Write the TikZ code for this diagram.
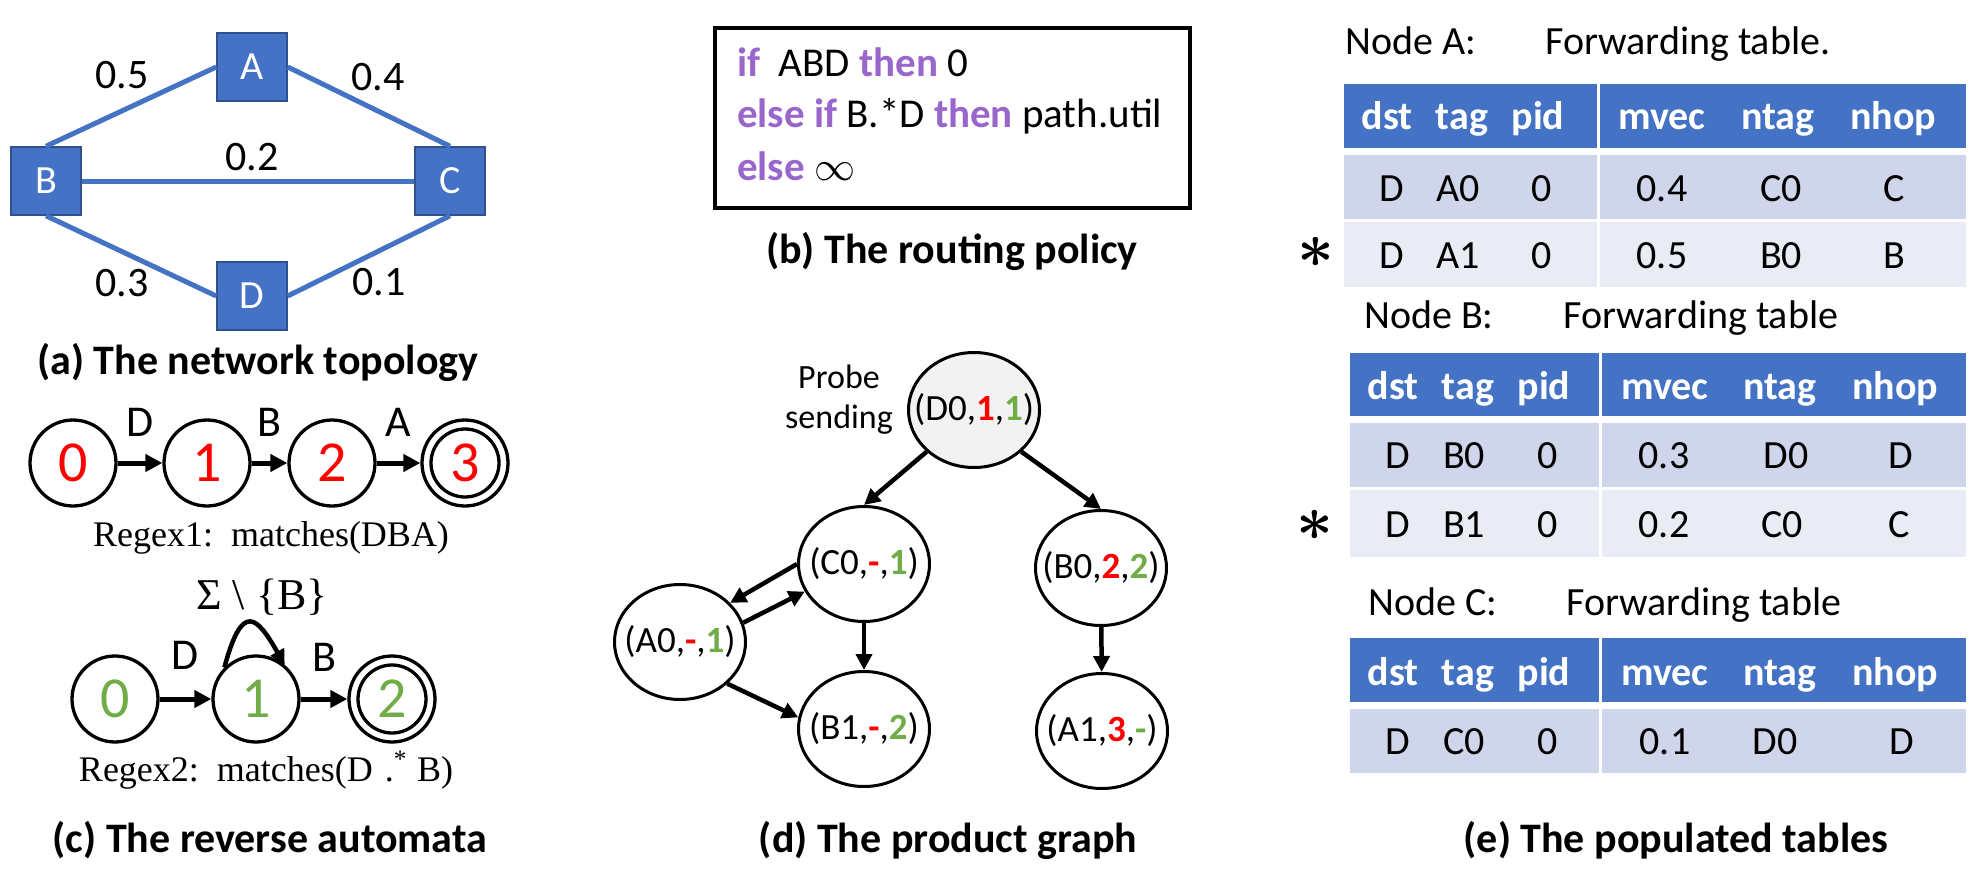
\documentclass[tikz,border=0pt]{standalone}
\usepackage{fix-cm}
\usepackage{fontspec}
\setmainfont{Carlito}
\newfontfamily\regexfont{Liberation Serif}
\usetikzlibrary{shapes, arrows, arrows.meta}

\definecolor{netblue}{HTML}{4472C4}
\definecolor{netedge}{HTML}{2F528F}
\definecolor{rowdark}{HTML}{CFD5EA}
\definecolor{rowlight}{HTML}{E9EBF5}
\definecolor{autred}{HTML}{FF0000}
\definecolor{autgreen}{HTML}{70AD47}
\definecolor{kwpurple}{HTML}{9966CC}
\definecolor{probegray}{HTML}{F2F2F2}

\newcommand{\fsz}[1]{\fontsize{#1}{#1}\selectfont}
\newcommand{\rd}[1]{\textcolor{autred}{\textbf{#1}}}
\newcommand{\gn}[1]{\textcolor{autgreen}{\textbf{#1}}}
\newcommand{\kw}[1]{\textcolor{kwpurple}{\textbf{#1}}}

\tikzset{
    router/.style={draw=netedge, line width=1.5pt, fill=netblue, text=white, minimum width=70pt, minimum height=68pt, inner sep=0pt, font=\fsz{40}},
    link/.style={netblue, line width=5pt},
    weight/.style={font=\fsz{42}},
    state/.style={draw, circle, line width=3.3pt, minimum size=86pt, inner sep=0pt, font=\fsz{58}},
    trans/.style={-{Triangle[length=17pt,width=17pt]}, line width=5pt},
    sym/.style={font=\fsz{44}, inner sep=0pt},
    pnode/.style={draw, ellipse, line width=3pt, minimum width=131pt, minimum height=115pt, inner sep=0pt, font=\fsz{37}},
    pedge/.style={-{Triangle[length=16pt,width=16pt]}, line width=4.5pt},
    caption/.style={font=\fsz{42}\bfseries, anchor=base},
    hdr/.style={font=\fsz{40}\bfseries, text=white, anchor=base},
    cell/.style={font=\fsz{40}, anchor=base},
    title/.style={font=\fsz{40}, anchor=base west, inner sep=0pt}
}

\begin{document}
\begin{tikzpicture}[x=1pt, y=-1pt]
    \useasboundingbox (0,0) rectangle (1972,880);

    % (a) network
    \node[router] (A) at (252,67) {A};
    \node[router] (B) at (46,181) {B};
    \node[router] (C) at (450,181) {C};
    \node[router] (D) at (252,296) {D};

    \draw[link] (B.north) -- (A.west);
    \draw[link] (A.east) -- (C.north);
    \draw[link] (B.east) -- (C.west);
    \draw[link] (B.south) -- (D.west);
    \draw[link] (D.east) -- (C.south);

    \node[weight] (wab) at (122,75) {0.5};
    \node[weight] (wac) at (378,77) {0.4};
    \node[weight] (wbc) at (252,157) {0.2};
    \node[weight] (wbd) at (122,283) {0.3};
    \node[weight] (wdc) at (379,282) {0.1};
    \node[caption] (capa) at (258,374) {(a) The network topology};

    % (c) automata
    \node[state] (q0) at (73,463) {\textcolor{autred}{0}};
    \node[state] (q1) at (207,463) {\textcolor{autred}{1}};
    \node[state] (q2) at (332,463) {\textcolor{autred}{2}};
    \node[state] (q3) at (465,463) {\textcolor{autred}{3}};
    \draw[line width=3.3pt] (q3) circle[radius=34pt];

    \draw[trans] (q0) -- (q1) node[sym, midway, above=24pt] (ld1) {D};
    \draw[trans] (q1) -- (q2) node[sym, midway, above=24pt] (lb1) {B};
    \draw[trans] (q2) -- (q3) node[sym, midway, above=24pt] (la1) {A};
    \node[font=\regexfont\fsz{36}, anchor=base] (rx1) at (271,546) {Regex1:\enspace matches(DBA)};

    \node[state] (r0) at (115,699) {\textcolor{autgreen}{0}};
    \node[state] (r1) at (256,699) {\textcolor{autgreen}{1}};
    \node[state] (r2) at (392,699) {\textcolor{autgreen}{2}};
    \draw[line width=3.3pt] (r2) circle[radius=34pt];

    \draw[trans] (r0) -- (r1) node[sym, midway, above=27pt] (ld2) {D};
    \draw[trans] (r1) -- (r2) node[sym, midway, above=25pt] (lb2) {B};
    \draw[-{Triangle[length=15pt,width=15pt]}, line width=4.5pt] (r1.135) .. controls +(75:70pt) and +(120:55pt) .. (r1.50);
    \node[font=\regexfont\fsz{44}, anchor=base] (loop) at (262,609) {Σ \textbackslash\ \{B\}};
    \node[font=\regexfont\fsz{36}, anchor=base] (rx2) at (266,781) {Regex2:\enspace matches(D\hspace{12pt}.\textsuperscript{*}\hspace{10pt}B)};
    \node[caption] (capc) at (270,852) {(c) The reverse automata};

    % (b) policy
    \draw[line width=3.5pt] (715,28) rectangle (1190,208);
    \node[font=\fsz{41}, anchor=base west, inner sep=0pt] (pol1) at (737,77) {\kw{if}\ \ ABD \kw{then} 0};
    \node[font=\fsz{41}, anchor=base west, inner sep=0pt] (pol2) at (737,128) {\kw{else if} B.*D \kw{then} path.util};
    \node[font=\fsz{41}, anchor=base west, inner sep=0pt] (pol3) at (737,180) {\kw{else} $\infty$};
    \node[caption] (capb) at (952,263) {(b) The routing policy};

    % (d) product graph
    \node[pnode, fill=probegray] (D0) at (974,410) {\makebox[0pt]{(D0,\rd{1},\gn{1})}};
    \node[pnode] (C0) at (864,564) {\makebox[0pt]{(C0,\rd{-},\gn{1})}};
    \node[pnode] (A0) at (680,642) {\makebox[0pt]{(A0,\rd{-},\gn{1})}};
    \node[pnode] (B1) at (864,729) {\makebox[0pt]{(B1,\rd{-},\gn{2})}};
    \node[pnode] (B0) at (1101,568) {\makebox[0pt]{(B0,\rd{2},\gn{2})}};
    \node[pnode] (A1) at (1102,731) {\makebox[0pt]{(A1,\rd{3},\gn{-})}};
    \node[font=\fontsize{34}{40}\selectfont, align=center] (probe) at (839,400) {Probe\\sending};

    \draw[pedge] (D0.south west) -- (C0.north);
    \draw[pedge] (D0.south east) -- (B0.north);
    \draw[pedge] (C0.west) -- (A0.38);
    \draw[pedge] (A0.17) -- (C0.205);
    \draw[pedge] (C0) -- (B1);
    \draw[pedge] (A0.south east) -- (B1.170);
    \draw[pedge] (B0) -- (A1);
    \node[caption] (capd) at (948,852) {(d) The product graph};

    % (e) tables
    \node[title] (nodeA) at (1345,55) {Node A:};
    \node[title] (fwdA) at (1545,55) {Forwarding table.};
    \foreach \ya/\yb/\col in {84/148/netblue, 155/219/rowdark, 222/287/rowlight} {
        \fill[\col] (1344,\ya) rectangle (1597,\yb);
        \fill[\col] (1600,\ya) rectangle (1966,\yb);
    }
    \foreach \x/\t in {1387/dst, 1462/tag, 1538/pid, 1662/mvec, 1778/ntag, 1893/nhop}
        \node[hdr] (hA-\t) at (\x,130) {\t};
    \foreach \x/\t [count=\i] in {1392/D, 1458/A0, 1542/0, 1662/0.4, 1781/C0, 1894/C}
        \node[cell] (a1-\i) at (\x,201) {\t};
    \foreach \x/\t [count=\i] in {1392/D, 1458/A1, 1542/0, 1662/0.5, 1781/B0, 1894/B}
        \node[cell] (a2-\i) at (\x,268) {\t};
    \node[font=\fsz{64}\boldmath] (starA) at (1316,252) {$\ast$};

    \node[title] (nodeB) at (1364,328) {Node B:};
    \node[title] (fwdB) at (1563,328) {Forwarding table};
    \foreach \ya/\yb/\col in {353/416/netblue, 423/487/rowdark, 490/557/rowlight} {
        \fill[\col] (1350,\ya) rectangle (1599,\yb);
        \fill[\col] (1602,\ya) rectangle (1966,\yb);
    }
    \foreach \x/\t in {1393/dst, 1468/tag, 1544/pid, 1665/mvec, 1780/ntag, 1895/nhop}
        \node[hdr] (hB-\t) at (\x,399) {\t};
    \foreach \x/\t [count=\i] in {1398/D, 1464/B0, 1548/0, 1664/0.3, 1786/D0, 1901/D}
        \node[cell] (b1-\i) at (\x,468) {\t};
    \foreach \x/\t [count=\i] in {1398/D, 1464/B1, 1548/0, 1664/0.2, 1782/C0, 1899/C}
        \node[cell] (b2-\i) at (\x,537) {\t};
    \node[font=\fsz{64}\boldmath] (starB) at (1315,525) {$\ast$};

    \node[title] (nodeC) at (1368,615) {Node C:};
    \node[title] (fwdC) at (1566,615) {Forwarding table};
    \foreach \ya/\yb/\col in {638/702/netblue, 709/773/rowdark} {
        \fill[\col] (1350,\ya) rectangle (1599,\yb);
        \fill[\col] (1602,\ya) rectangle (1966,\yb);
    }
    \foreach \x/\t in {1393/dst, 1468/tag, 1544/pid, 1665/mvec, 1780/ntag, 1895/nhop}
        \node[hdr] (hC-\t) at (\x,685) {\t};
    \foreach \x/\t [count=\i] in {1398/D, 1464/C0, 1548/0, 1665/0.1, 1775/D0, 1902/D}
        \node[cell] (c1-\i) at (\x,754) {\t};
    \node[caption] (cape) at (1676,852) {(e) The populated tables};
\end{tikzpicture}
\end{document}
